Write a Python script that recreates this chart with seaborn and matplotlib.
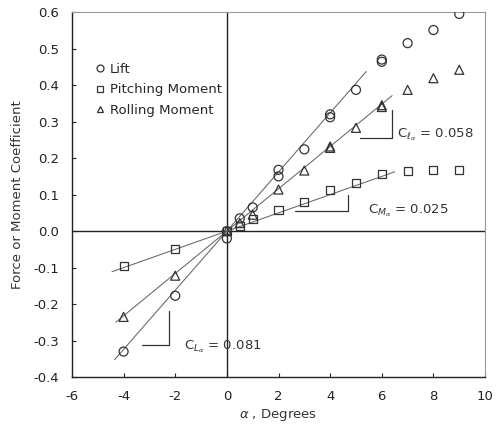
import matplotlib
matplotlib.use("Agg")
import matplotlib.pyplot as plt
import seaborn as sns
import numpy as np
import pandas as pd
from matplotlib.lines import Line2D

# ---- data ----
lift_x = [-4, -2, 0, 0, 0.5, 1, 2, 2, 3, 4, 4, 5, 6, 6, 7, 8, 9]
lift_y = [-0.33, -0.177, -0.02, 0.0, 0.035, 0.065, 0.168, 0.15, 0.224, 0.32, 0.312, 0.387, 0.47, 0.464, 0.515, 0.551, 0.595]

pitch_x = [-4, -2, 0, 0.5, 1, 2, 3, 4, 5, 6, 7, 8, 9]
pitch_y = [-0.095, -0.05, 0.0, 0.015, 0.033, 0.059, 0.079, 0.112, 0.133, 0.157, 0.164, 0.168, 0.168]

roll_x = [-4, -2, 0, 0.5, 1, 2, 3, 4, 4, 5, 6, 6, 7, 8, 9]
roll_y = [-0.235, -0.122, 0.0, 0.022, 0.045, 0.114, 0.166, 0.232, 0.228, 0.283, 0.345, 0.34, 0.387, 0.419, 0.442]

series_names = ["Lift", "Pitching Moment", "Rolling Moment"]
slopes = [0.081, 0.025, 0.058]
fit_x_range = [(-4.35, 5.4), (-4.45, 6.5), (-4.3, 6.4)]
slope_labels = [r"C$_{L_\alpha}$ = 0.081", r"C$_{M_\alpha}$ = 0.025", r"C$_{\ell_\alpha}$ = 0.058"]

x_ticks = [-6, -4, -2, 0, 2, 4, 6, 8, 10]
y_ticks = [-0.4, -0.3, -0.2, -0.1, 0.0, 0.1, 0.2, 0.3, 0.4, 0.5, 0.6]

# ---- plot ----
sns.set_theme(style="white")
plt.rcParams["font.family"] = ["DejaVu Sans"]
plt.rcParams["mathtext.fontset"] = "dejavusans"

fig = plt.figure(figsize=(4.96, 4.33), dpi=100)
ax = fig.add_axes([0.145, 0.129, 0.833, 0.843])

ink = "#333333"
ax.axhline(0, color="#222222", lw=1.0, zorder=1)
ax.axvline(0, color="#222222", lw=1.0, zorder=1)

# fitted slope lines
for (x0, x1), k in zip(fit_x_range, slopes):
    xs = np.array([x0, x1])
    sns.lineplot(x=xs, y=k * xs, ax=ax, color="#666666", lw=0.75, zorder=2)

markers = ["o", "s", "^"]
data = [(lift_x, lift_y), (pitch_x, pitch_y), (roll_x, roll_y)]
for (xs, ys), m in zip(data, markers):
    sns.scatterplot(x=xs, y=ys, ax=ax, marker=m, s=42 if m != "s" else 34,
                    facecolors="none", edgecolors=ink, linewidths=0.9, zorder=3)

# slope triangles
ax.plot([-3.3, -2.25, -2.25], [-0.311, -0.311, -0.218], color=ink, lw=0.9)
ax.plot([2.64, 4.69, 4.69], [0.055, 0.055, 0.1], color=ink, lw=0.9)
ax.plot([5.15, 6.4, 6.4], [0.256, 0.256, 0.333], color=ink, lw=0.9)

fs = 9.5
ax.text(-1.65, -0.318, slope_labels[0], fontsize=fs, color=ink, va="center")
ax.text(5.45, 0.055, slope_labels[1], fontsize=fs, color=ink, va="center")
ax.text(6.6, 0.265, slope_labels[2], fontsize=fs, color=ink, va="center")

# legend
handles = [Line2D([], [], linestyle="none", marker=m, markerfacecolor="none",
                  markeredgecolor=ink, markersize=5, markeredgewidth=0.9) for m in markers]
ax.legend(handles, series_names, loc="upper left", bbox_to_anchor=(0.04, 0.875),
          frameon=False, fontsize=fs, handletextpad=0.2, labelspacing=0.55,
          handlelength=1.0, borderaxespad=0)

ax.set_xlim(-6, 10)
ax.set_ylim(-0.4, 0.6)
ax.set_xticks(x_ticks)
ax.set_yticks(y_ticks)
ax.set_xticklabels([str(t) for t in x_ticks])
ax.set_yticklabels([f"{t:.1f}" for t in y_ticks])
ax.tick_params(direction="in", length=3, width=0.8, colors="#222222", labelsize=fs, pad=9,
               bottom=True, left=True)
ax.set_xlabel(r"$\alpha$ , Degrees", fontsize=fs, color=ink, labelpad=3)
ax.set_ylabel("Force or Moment Coefficient", fontsize=fs, color=ink, labelpad=7)

for side in ["left", "bottom"]:
    ax.spines[side].set_color("#222222")
    ax.spines[side].set_linewidth(1.0)
for side in ["top", "right"]:
    ax.spines[side].set_color("#999999")
    ax.spines[side].set_linewidth(0.8)

fig.savefig("out.png", dpi=100)
